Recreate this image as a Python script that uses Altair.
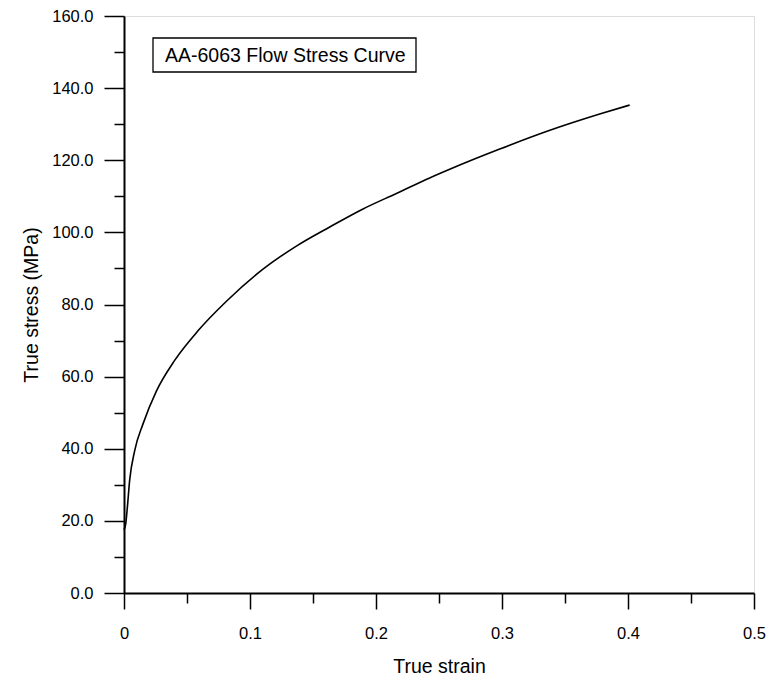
import altair as alt
import pandas as pd

# Values
strain = [0.0, 0.0013, 0.0027, 0.0045, 0.0085, 0.0151, 0.0257, 0.0402, 0.0587,
          0.0813, 0.1103, 0.1368, 0.1633, 0.1897, 0.2162, 0.2426, 0.2585,
          0.2982, 0.338, 0.3775, 0.4013]
stress = [17.5, 19.0, 23.9, 31.3, 39.5, 46.9, 56.0, 64.5, 72.7,
          80.9, 89.8, 96.2, 101.5, 106.5, 110.8, 115.1, 117.5,
          123.1, 128.3, 132.8, 135.3]

x_ticks = [round(i * 0.05, 2) for i in range(11)]
y_ticks = list(range(0, 161, 10))
legend_label = ["AA-6063 Flow Stress Curve"]

FONT = "Liberation Sans, Arial, sans-serif"
W, H = 630, 577

df = pd.DataFrame({"strain": strain, "stress": stress})

x_axis = alt.Axis(
    values=x_ticks,
    labelExpr="abs(datum.value*10 - round(datum.value*10)) < 0.001 ? (datum.value === 0 ? '0' : format(datum.value, '.1f')) : ''",
    tickSize={"condition": {"test": "abs(datum.value*10 - round(datum.value*10)) < 0.001", "value": 16}, "value": 10},
    tickColor="black", tickWidth=1.5,
    domainColor="black", domainWidth=2,
    labelFont=FONT, labelFontSize=16.5, labelColor="black", labelPadding=16,
    labelFlush=False,
    title="True strain", titleFont=FONT, titleFontSize=19.5, titleFontWeight="normal",
    titleColor="black", titlePadding=16,
    grid=False,
)
y_axis = alt.Axis(
    values=y_ticks,
    labelExpr="datum.value % 20 === 0 ? format(datum.value, '.1f') : ''",
    tickSize={"condition": {"test": "datum.value % 20 === 0", "value": 20}, "value": 10},
    tickColor="black", tickWidth=1.5,
    domainColor="black", domainWidth=2,
    labelFont=FONT, labelFontSize=16.5, labelColor="black", labelPadding=11,
    labelFlush=False,
    title="True stress (MPa)", titleFont=FONT, titleFontSize=19.5, titleFontWeight="normal",
    titleColor="black", titlePadding=10,
    grid=False,
)

line = alt.Chart(df).mark_line(color="black", strokeWidth=1.6, interpolate="monotone").encode(
    x=alt.X("strain:Q", scale=alt.Scale(domain=[0, 0.5], nice=False), axis=x_axis),
    y=alt.Y("stress:Q", scale=alt.Scale(domain=[0, 160], nice=False), axis=y_axis),
)

leg_df = pd.DataFrame({"label": legend_label})
box = alt.Chart(leg_df).mark_rect(fill="white", stroke="black", strokeWidth=1.3).encode(
    x=alt.value(29), x2=alt.value(292), y=alt.value(22), y2=alt.value(56)
)
txt = alt.Chart(leg_df).mark_text(
    font=FONT, fontSize=19.5, color="black", align="left", baseline="middle"
).encode(x=alt.value(41), y=alt.value(40), text="label:N")

chart = alt.layer(line, box, txt).properties(
    width=W, height=H,
    padding={"left": 116, "top": 8, "right": 14, "bottom": 84},
    autosize=alt.AutoSizeParams(type="none"),
).configure_view(stroke="#444", strokeWidth=1).configure(background="white")

chart.save("out.html", embed_options={"renderer": "svg", "actions": False})
